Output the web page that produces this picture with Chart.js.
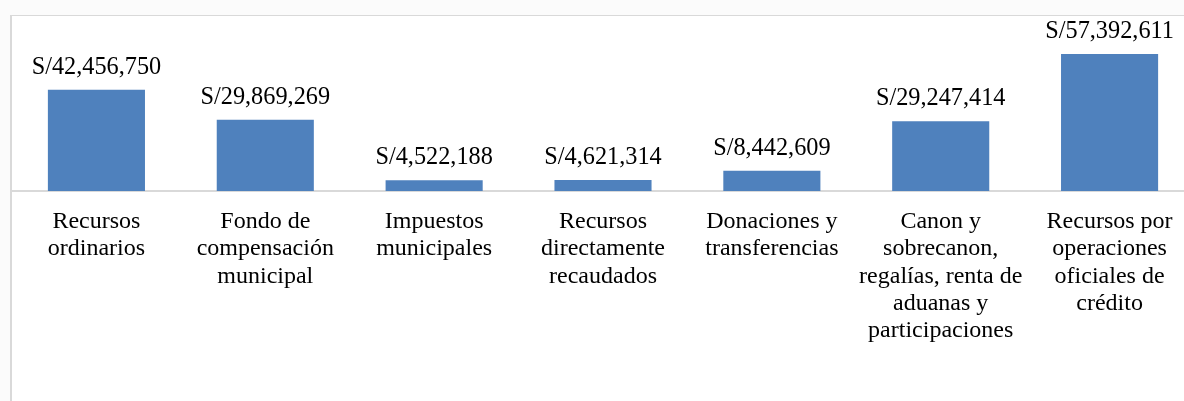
<!DOCTYPE html>
<html>
<head>
<meta charset="utf-8">
<script src="https://cdn.jsdelivr.net/npm/chart.js@4.4.0/dist/chart.umd.min.js"></script>
<style>
  html, body { margin: 0; padding: 0; overflow: hidden; background: #fbfbfb; }
  #frame {
    position: absolute; left: 10px; top: 15px;
    width: 1182px; height: 386px;
    border-left: 2px solid #d9d9d9; border-top: 1px solid #d9d9d9;
    background: #ffffff;
  }
  #frame canvas { display: block; }
</style>
</head>
<body>
<div id="frame"><canvas id="myChart" width="1182" height="385"></canvas></div>
<script>
// Categorias (lineas de la etiqueta)
const categories = [
    ['Recursos', 'ordinarios'],
    ['Fondo de', 'compensación', 'municipal'],
    ['Impuestos', 'municipales'],
    ['Recursos', 'directamente', 'recaudados'],
    ['Donaciones y', 'transferencias'],
    ['Canon y', 'sobrecanon,', 'regalías, renta de', 'aduanas y', 'participaciones'],
    ['Recursos por', 'operaciones', 'oficiales de', 'crédito']
];
const montos = [42456750, 29869269, 4522188, 4621314, 8442609, 29247414, 57392611];

function formatSoles(v) {
    return 'S/' + v.toLocaleString('en-US');
}

// etiquetas de valor encima de cada barra
const valueLabels = {
    id: 'valueLabels',
    afterDatasetsDraw(chart) {
        const ctx = chart.ctx;
        const meta = chart.getDatasetMeta(0);
        ctx.save();
        ctx.font = '24.3px "Liberation Serif", "Times New Roman", serif';
        ctx.fillStyle = '#000000';
        ctx.textAlign = 'center';
        ctx.textBaseline = 'alphabetic';
        meta.data.forEach((bar, i) => {
            ctx.fillText(formatSoles(montos[i]), bar.x, bar.y - 16);
        });
        ctx.restore();
    }
};

const ctx = document.getElementById('myChart');
new Chart(ctx, {
    type: 'bar',
    data: {
        labels: categories,
        datasets: [{
            data: montos,
            backgroundColor: '#4f81bd',
            borderWidth: 0,
            categoryPercentage: 1.0,
            barPercentage: 0.575
        }]
    },
    options: {
        responsive: false,
        animation: false,
        layout: { padding: 0 },
        plugins: {
            legend: { display: false },
            tooltip: { enabled: false }
        },
        scales: {
            x: {
                grid: { display: false },
                border: { display: true, color: '#d9d9d9', width: 2 },
                ticks: {
                    color: '#000000',
                    padding: 9,
                    maxRotation: 0,
                    autoSkip: false,
                    font: { family: '"Liberation Serif", "Times New Roman", serif', size: 24, lineHeight: 1.14 }
                },
                afterFit: scale => { scale.height = 210; }
            },
            y: {
                display: false,
                min: 0,
                max: 73300000
            }
        }
    },
    plugins: [valueLabels]
});
</script>
</body>
</html>
